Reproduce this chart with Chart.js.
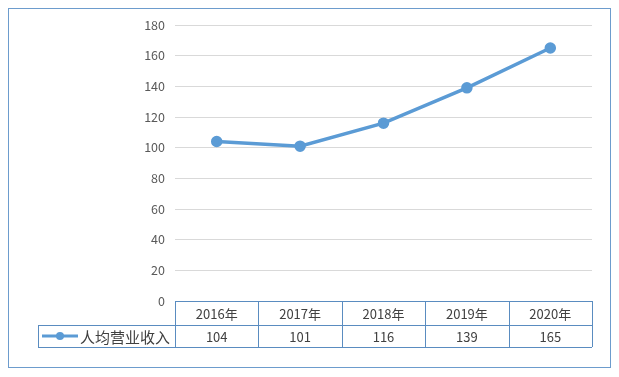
<!DOCTYPE html>
<html><head><meta charset="utf-8">
<script src="https://cdn.jsdelivr.net/npm/chart.js@4/dist/chart.umd.min.js"></script>
<style>
html,body{margin:0;padding:0;background:#fff;}
#wrap{position:relative;width:619px;height:377px;}
</style></head>
<body><div id="wrap"><canvas id="c" width="619" height="377"></canvas></div>
<script>
const categories = ['2016年','2017年','2018年','2019年','2020年'];
const seriesName = '人均营业收入';
const values = [104, 101, 116, 139, 165];
const yTicks = [0,20,40,60,80,100,120,140,160,180];

const FONT = '"Noto Sans CJK SC", "DejaVu Sans", sans-serif';
const LINE = '#5b9bd5';
const TABLE = '#5a8cc0';

const tablePlugin = {
  id: 'dataTable',
  afterDraw(chart) {
    const ctx = chart.ctx;
    const xs = chart.scales.x, ca = chart.chartArea;
    const top = ca.bottom, rowH1 = 24, rowH2 = 22;
    const mid = top + rowH1, bot = mid + rowH2;
    const n = categories.length;
    const step = (ca.right - ca.left) / n;
    const legLeft = 38;
    ctx.save();
    ctx.strokeStyle = '#6d9ccd';
    ctx.lineWidth = 1;
    ctx.strokeRect(8.5, 8.5, 602, 359);
    ctx.strokeStyle = TABLE;
    ctx.beginPath();
    ctx.moveTo(ca.left, top + 0.5); ctx.lineTo(ca.right, top + 0.5);
    ctx.moveTo(legLeft, mid + 0.5); ctx.lineTo(ca.right, mid + 0.5);
    ctx.moveTo(legLeft, bot + 0.5); ctx.lineTo(ca.right, bot + 0.5);
    for (let i = 0; i <= n; i++) {
      const x = Math.round(ca.left + i * step) + 0.5;
      ctx.moveTo(x, top); ctx.lineTo(x, bot);
    }
    ctx.moveTo(legLeft + 0.5, mid); ctx.lineTo(legLeft + 0.5, bot);
    ctx.stroke();
    ctx.fillStyle = '#404040';
    ctx.font = '13px ' + FONT;
    ctx.textAlign = 'center'; ctx.textBaseline = 'middle';
    categories.forEach((c, i) => {
      const x = xs.getPixelForValue(i);
      ctx.fillText(c, x, top + rowH1 / 2 + 1);
      ctx.fillText(String(values[i]), x, mid + rowH2 / 2 + 1);
    });
    const ly = mid + rowH2 / 2;
    ctx.strokeStyle = LINE; ctx.lineWidth = 3;
    ctx.beginPath(); ctx.moveTo(42, ly); ctx.lineTo(78, ly); ctx.stroke();
    ctx.fillStyle = LINE;
    ctx.beginPath(); ctx.arc(60, ly, 4, 0, Math.PI * 2); ctx.fill();
    ctx.fillStyle = '#404040';
    ctx.font = '15px ' + FONT;
    ctx.textAlign = 'left';
    ctx.fillText(seriesName, 80, ly + 1);
    ctx.restore();
  }
};

new Chart(document.getElementById('c'), {
  type: 'line',
  data: {
    labels: categories,
    datasets: [{
      label: seriesName,
      data: values,
      borderColor: LINE,
      backgroundColor: LINE,
      borderWidth: 3.5,
      pointRadius: 4,
      pointBackgroundColor: LINE,
      pointBorderColor: LINE,
      tension: 0
    }]
  },
  options: {
    responsive: false,
    animation: false,
    devicePixelRatio: 1,
    layout: { padding: { left: 0, right: 27, top: 25, bottom: 76 } },
    plugins: { legend: { display: false }, tooltip: { enabled: false } },
    scales: {
      x: { type: 'category', offset: true, display: false },
      y: {
        min: 0, max: 180,
        afterFit(s) { s.width = 175; },
        afterBuildTicks(s) { s.ticks = yTicks.map(v => ({ value: v })); },
        border: { display: false },
        grid: { color: '#d9d9d9', drawTicks: false, lineWidth: 1 },
        ticks: { padding: 10, color: '#595959', font: { family: FONT, size: 12.5 } }
      }
    }
  },
  plugins: [tablePlugin]
});
</script></body></html>
